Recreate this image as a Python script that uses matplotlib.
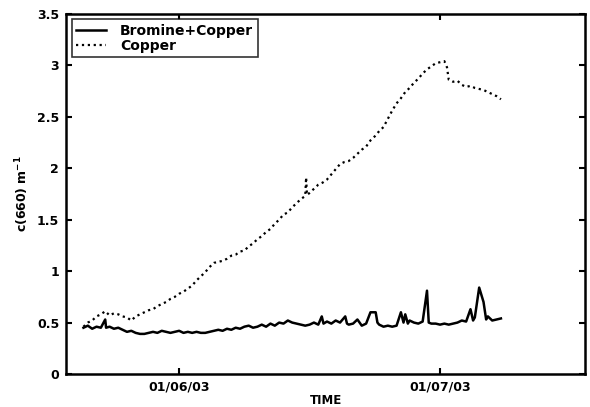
import matplotlib
matplotlib.use("Agg")
import matplotlib.pyplot as plt

# days relative to 01/06/03
cu_days = [-11.0, -10.5, -10.0, -9.5, -9.0, -8.5, -8.0, -7.5, -7.0, -6.5,
           -6.0, -5.5, -5.0, -4.5, -4.0, -3.5, -3.0, -2.5, -2.0, -1.5,
           -1.0, -0.5, 0.0, 0.5, 1.0, 1.5, 2.0, 2.5, 3.0, 3.5,
           4.0, 4.5, 5.0, 5.5, 6.0, 6.5, 7.0, 7.5, 8.0, 8.5,
           9.0, 9.5, 10.0, 10.5, 11.0, 11.5, 12.0, 12.5, 13.0, 13.5,
           14.0, 14.5, 14.6, 14.7, 15.0, 15.5, 16.0, 16.5, 17.0, 17.5,
           18.0, 18.5, 19.0, 19.5, 20.0, 20.5, 21.0, 21.5, 22.0, 22.5,
           23.0, 23.5, 24.0, 24.5, 25.0, 25.5, 26.0, 26.5, 27.0, 27.5,
           28.0, 28.5, 29.0, 29.5, 30.0, 30.5, 30.8, 31.0, 31.5, 32.0,
           32.5, 33.0, 33.5, 34.0, 34.5, 35.0, 35.5, 36.0, 36.5, 37.0]
cu_vals = [0.46, 0.50, 0.52, 0.56, 0.58, 0.61, 0.57, 0.59, 0.58, 0.56,
           0.55, 0.52, 0.56, 0.58, 0.60, 0.62, 0.63, 0.66, 0.68, 0.70,
           0.73, 0.75, 0.78, 0.80, 0.83, 0.86, 0.91, 0.95, 0.99, 1.04,
           1.08, 1.09, 1.10, 1.12, 1.15, 1.16, 1.19, 1.20, 1.24, 1.27,
           1.31, 1.34, 1.38, 1.41, 1.46, 1.50, 1.55, 1.57, 1.62, 1.66,
           1.70, 1.73, 1.91, 1.74, 1.76, 1.80, 1.84, 1.86, 1.89, 1.94,
           1.99, 2.04, 2.06, 2.07, 2.10, 2.14, 2.18, 2.21, 2.27, 2.31,
           2.36, 2.40, 2.48, 2.56, 2.63, 2.68, 2.74, 2.78, 2.83, 2.87,
           2.92, 2.96, 2.99, 3.02, 3.03, 3.04, 2.98, 2.86, 2.84, 2.85,
           2.81, 2.79, 2.80, 2.78, 2.77, 2.76, 2.74, 2.72, 2.70, 2.67]

brcu_days = [-11.0, -10.5, -10.0, -9.5, -9.0, -8.5, -8.4, -8.0, -7.5, -7.0,
             -6.5, -6.0, -5.5, -5.0, -4.5, -4.0, -3.5, -3.0, -2.5, -2.0,
             -1.5, -1.0, -0.5, 0.0, 0.5, 1.0, 1.5, 2.0, 2.5, 3.0,
             3.5, 4.0, 4.5, 5.0, 5.5, 6.0, 6.5, 7.0, 7.5, 8.0,
             8.5, 9.0, 9.5, 10.0, 10.5, 11.0, 11.5, 12.0, 12.5, 13.0,
             13.5, 14.0, 14.5, 15.0, 15.5, 16.0, 16.4, 16.6, 17.0, 17.5,
             18.0, 18.5, 19.1, 19.3, 19.5, 20.0, 20.5, 21.0, 21.5, 22.0,
             22.6, 22.8, 23.0, 23.5, 24.0, 24.5, 25.0, 25.5, 25.8, 26.0,
             26.3, 26.5, 27.0, 27.5, 28.0, 28.5, 28.7, 29.0, 29.5, 30.0,
             30.5, 31.0, 31.5, 32.0, 32.5, 33.0, 33.5, 33.8, 34.0, 34.5,
             35.0, 35.3, 35.5, 36.0, 36.5, 37.0]
brcu_vals = [0.45, 0.47, 0.44, 0.46, 0.45, 0.53, 0.45, 0.46, 0.44, 0.45,
             0.43, 0.41, 0.42, 0.40, 0.39, 0.39, 0.40, 0.41, 0.40, 0.42,
             0.41, 0.40, 0.41, 0.42, 0.40, 0.41, 0.40, 0.41, 0.40, 0.40,
             0.41, 0.42, 0.43, 0.42, 0.44, 0.43, 0.45, 0.44, 0.46, 0.47,
             0.45, 0.46, 0.48, 0.46, 0.49, 0.47, 0.50, 0.49, 0.52, 0.50,
             0.49, 0.48, 0.47, 0.48, 0.50, 0.48, 0.56, 0.49, 0.51, 0.49,
             0.52, 0.50, 0.56, 0.49, 0.48, 0.49, 0.53, 0.47, 0.49, 0.60,
             0.60, 0.50, 0.48, 0.46, 0.47, 0.46, 0.47, 0.60, 0.50, 0.58,
             0.49, 0.52, 0.50, 0.49, 0.51, 0.81, 0.50, 0.49, 0.49, 0.48,
             0.49, 0.48, 0.49, 0.50, 0.52, 0.51, 0.63, 0.52, 0.55, 0.84,
             0.70, 0.53, 0.56, 0.52, 0.53, 0.54]

tick_days = [0, 30]
tick_labels = ["01/06/03", "01/07/03"]
y_ticks = [0, 0.5, 1, 1.5, 2, 2.5, 3, 3.5]
y_labels = ["0", "0.5", "1", "1.5", "2", "2.5", "3", "3.5"]

plt.rcParams["font.family"] = ["DejaVu Sans"]
plt.rcParams["font.weight"] = "bold"

fig = plt.figure(figsize=(5.9, 4.07), dpi=100)
ax = fig.add_axes([0.112, 0.081, 0.880, 0.885])

ax.plot(brcu_days, brcu_vals, color="black", lw=1.8, label="Bromine+Copper")
ax.plot(cu_days, cu_vals, color="black", lw=1.6, linestyle=":", label="Copper")

ax.set_xlim(-13, 46.7)
ax.set_ylim(0, 3.5)
ax.set_xticks(tick_days)
ax.set_xticklabels(tick_labels)
ax.set_yticks(y_ticks)
ax.set_yticklabels(y_labels)
ax.tick_params(direction="in", top=True, right=True, length=4, width=1.5,
               labelsize=9, pad=5)
for s in ax.spines.values():
    s.set_linewidth(1.8)

ax.set_xlabel("TIME", fontsize=8.5, fontweight="bold", labelpad=0)
ax.set_ylabel("c(660) m$^{\\mathbf{-1}}$", fontsize=9, fontweight="bold",
              labelpad=4)

leg = ax.legend(loc="upper left", fontsize=10, frameon=True, fancybox=False,
                handlelength=2.2, handletextpad=1.0, borderpad=0.3,
                labelspacing=0.1, borderaxespad=0.4)
leg.get_frame().set_edgecolor("black")
leg.get_frame().set_linewidth(1.2)

fig.savefig("out.png", dpi=100)
